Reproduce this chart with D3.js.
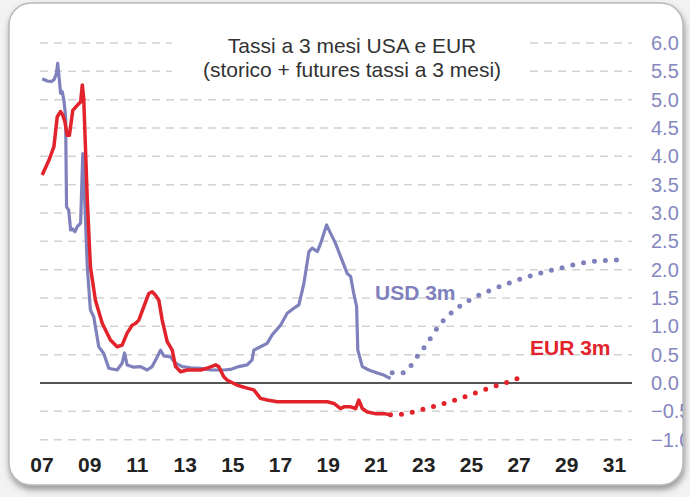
<!DOCTYPE html>
<html>
<head>
<meta charset="utf-8">
<script src="https://cdn.jsdelivr.net/npm/d3@7"></script>
<style>
body { margin: 0; background: #fff; }
svg { display: block; }
</style>
</head>
<body>
<div id="chart"></div>
<script>
// tick values and labels
const yearTicks = [2007, 2009, 2011, 2013, 2015, 2017, 2019, 2021, 2023, 2025, 2027, 2029, 2031];
const yearLabels = ['07', '09', '11', '13', '15', '17', '19', '21', '23', '25', '27', '29', '31'];
const rateTicks = [-1, -0.5, 0, 0.5, 1, 1.5, 2, 2.5, 3, 3.5, 4, 4.5, 5, 5.5, 6];

// USD 3m, history [year, %]
const usdHist = [
  [2007.03, 5.37], [2007.24, 5.33], [2007.40, 5.32], [2007.52, 5.35], [2007.62, 5.45], [2007.68, 5.64],
  [2007.77, 5.25], [2007.80, 5.11], [2007.87, 5.14], [2007.94, 4.99], [2008.01, 4.70], [2008.05, 3.11],
  [2008.14, 3.05], [2008.22, 2.70], [2008.30, 2.72], [2008.40, 2.67], [2008.50, 2.76], [2008.64, 2.82],
  [2008.73, 4.05], [2008.84, 2.93], [2008.92, 2.05], [2009.05, 1.29], [2009.19, 1.17], [2009.40, 0.64],
  [2009.61, 0.52], [2009.82, 0.26], [2010.17, 0.23], [2010.38, 0.35], [2010.48, 0.53], [2010.59, 0.32],
  [2010.87, 0.28], [2011.15, 0.29], [2011.43, 0.23], [2011.64, 0.29], [2011.85, 0.46], [2011.99, 0.58],
  [2012.13, 0.48], [2012.41, 0.46], [2012.62, 0.35], [2012.90, 0.29], [2013.25, 0.27], [2013.67, 0.26],
  [2014.09, 0.23], [2014.64, 0.23], [2014.92, 0.24], [2015.27, 0.29], [2015.62, 0.32], [2015.83, 0.41],
  [2015.90, 0.58], [2016.18, 0.64], [2016.46, 0.70], [2016.67, 0.85], [2017.02, 1.02], [2017.30, 1.23],
  [2017.58, 1.32], [2017.79, 1.38], [2018.00, 1.76], [2018.21, 2.32], [2018.35, 2.38], [2018.56, 2.32],
  [2018.70, 2.46], [2018.95, 2.79], [2019.12, 2.64], [2019.33, 2.46], [2019.54, 2.23], [2019.82, 1.93],
  [2019.96, 1.88], [2020.09, 1.58], [2020.21, 1.35], [2020.26, 0.58], [2020.45, 0.29], [2020.72, 0.23],
  [2020.93, 0.20], [2021.14, 0.17], [2021.35, 0.14], [2021.63, 0.08]
];
// USD 3m, futures
const usdFut = [
  [2021.70, 0.18], [2022.15, 0.18], [2022.51, 0.32], [2022.79, 0.49], [2023.10, 0.66], [2023.66, 1.01],
  [2024.39, 1.31], [2025.20, 1.52], [2026.07, 1.68], [2026.83, 1.80], [2027.75, 1.92], [2028.69, 2.02],
  [2029.85, 2.13], [2030.50, 2.16], [2031.28, 2.17]
];
// EUR 3m, history
const eurHist = [
  [2007.03, 3.67], [2007.31, 3.93], [2007.52, 4.17], [2007.66, 4.70], [2007.80, 4.79], [2007.89, 4.73],
  [2007.98, 4.61], [2008.08, 4.37], [2008.17, 4.37], [2008.31, 4.81], [2008.50, 4.90], [2008.64, 4.96],
  [2008.71, 5.26], [2008.77, 5.02], [2008.92, 3.23], [2009.05, 2.05], [2009.26, 1.46], [2009.55, 1.05],
  [2009.89, 0.76], [2010.17, 0.64], [2010.38, 0.67], [2010.59, 0.88], [2010.80, 1.02], [2010.94, 1.05],
  [2011.08, 1.11], [2011.29, 1.35], [2011.50, 1.58], [2011.64, 1.61], [2011.78, 1.55], [2011.92, 1.46],
  [2012.06, 1.11], [2012.27, 0.73], [2012.48, 0.58], [2012.62, 0.29], [2012.83, 0.20], [2013.11, 0.23],
  [2013.67, 0.23], [2014.01, 0.27], [2014.30, 0.32], [2014.43, 0.29], [2014.64, 0.11], [2014.79, 0.05],
  [2015.21, -0.04], [2015.62, -0.09], [2015.90, -0.12], [2016.18, -0.27], [2016.46, -0.30], [2016.88, -0.33],
  [2018.98, -0.33], [2019.26, -0.36], [2019.54, -0.45], [2019.68, -0.42], [2019.96, -0.42], [2020.17, -0.45],
  [2020.30, -0.30], [2020.45, -0.45], [2020.66, -0.51], [2021.00, -0.54], [2021.35, -0.54], [2021.63, -0.56]
];
// EUR 3m, futures
const eurFut = [
  [2021.63, -0.56], [2022.15, -0.55], [2022.61, -0.51], [2023.10, -0.45], [2023.56, -0.40], [2024.04, -0.34],
  [2024.50, -0.28], [2024.96, -0.21], [2025.44, -0.14], [2025.90, -0.07], [2026.36, -0.01], [2026.83, 0.06],
  [2027.29, 0.14]
];

var width = 690,
    height = 497;

var usdColor = '#7f81bd',
    eurColor = '#e2232b',
    narrow = '"Liberation Sans Narrow", "Arial Narrow", "Liberation Sans", sans-serif';

var svg = d3.select('#chart')
            .append('svg')
            .attr('width', width)
            .attr('height', height);

var defs = svg.append('defs');
var shadow = defs.append('filter')
                 .attr('id', 'shadow')
                 .attr('x', '-5%').attr('y', '-5%')
                 .attr('width', '110%').attr('height', '115%');
shadow.append('feDropShadow')
      .attr('dx', 1).attr('dy', 4)
      .attr('stdDeviation', 3)
      .attr('flood-color', '#555')
      .attr('flood-opacity', 0.6);

defs.append('clipPath')
    .attr('id', 'panelClip')
    .append('rect')
    .attr('x', 9).attr('y', 3)
    .attr('width', 674).attr('height', 482);

// frame
svg.append('rect')
   .attr('width', width).attr('height', height)
   .attr('fill', '#f3f3f3');
svg.append('rect')
   .attr('x', 9).attr('y', 3)
   .attr('width', 674).attr('height', 482)
   .attr('rx', 22)
   .attr('fill', '#fff')
   .attr('stroke', '#b9b9b9')
   .attr('stroke-width', 1.5)
   .attr('filter', 'url(#shadow)');

var plot = svg.append('g').attr('clip-path', 'url(#panelClip)');

var x = d3.scaleLinear().domain([2007, 2031]).range([41.5, 614]);
var y = d3.scaleLinear().domain([-1, 6]).range([439.7, 43]);

// grid
plot.append('g')
    .selectAll('line')
    .data(rateTicks.filter(function(d) { return d !== 0; }))
    .enter()
    .append('line')
    .attr('x1', 40).attr('x2', 632)
    .attr('y1', function(d) { return y(d); })
    .attr('y2', function(d) { return y(d); })
    .attr('stroke', '#d2d2d2')
    .attr('stroke-width', 1.5)
    .attr('stroke-dasharray', '8,6');

// title box hides the grid
plot.append('rect')
    .attr('x', 172).attr('y', 28)
    .attr('width', 356).attr('height', 56)
    .attr('fill', '#fff');

plot.append('text')
    .attr('x', 352).attr('y', 53)
    .attr('text-anchor', 'middle')
    .style('font-family', narrow)
    .style('font-size', '21px')
    .style('fill', '#333')
    .text('Tassi a 3 mesi USA e EUR');
plot.append('text')
    .attr('x', 352).attr('y', 77)
    .attr('text-anchor', 'middle')
    .style('font-family', narrow)
    .style('font-size', '21px')
    .style('fill', '#333')
    .text('(storico + futures tassi a 3 mesi)');

// zero line
plot.append('line')
    .attr('x1', 40).attr('x2', 632)
    .attr('y1', y(0)).attr('y2', y(0))
    .attr('stroke', '#555')
    .attr('stroke-width', 2);

var line = d3.line()
             .x(function(d) { return x(d[0]); })
             .y(function(d) { return y(d[1]); });
var smooth = d3.line()
               .curve(d3.curveMonotoneX)
               .x(function(d) { return x(d[0]); })
               .y(function(d) { return y(d[1]); });

plot.append('path')
    .datum(usdHist)
    .attr('d', line)
    .attr('fill', 'none')
    .attr('stroke', usdColor)
    .attr('stroke-width', 3.2)
    .attr('stroke-linejoin', 'round');

plot.append('path')
    .datum(eurHist)
    .attr('d', line)
    .attr('fill', 'none')
    .attr('stroke', eurColor)
    .attr('stroke-width', 3.5)
    .attr('stroke-linejoin', 'round');

plot.append('path')
    .datum(usdFut)
    .attr('d', smooth)
    .attr('fill', 'none')
    .attr('stroke', usdColor)
    .attr('stroke-width', 5)
    .attr('stroke-linecap', 'round')
    .attr('stroke-dasharray', '0,11');

plot.append('path')
    .datum(eurFut)
    .attr('d', smooth)
    .attr('fill', 'none')
    .attr('stroke', eurColor)
    .attr('stroke-width', 5)
    .attr('stroke-linecap', 'round')
    .attr('stroke-dasharray', '0,11');

// series labels
plot.append('text')
    .attr('x', 375).attr('y', 300)
    .style('font-family', narrow)
    .style('font-size', '21px')
    .style('font-weight', 'bold')
    .style('fill', usdColor)
    .text('USD 3m');
plot.append('text')
    .attr('x', 530).attr('y', 355)
    .style('font-family', narrow)
    .style('font-size', '21px')
    .style('font-weight', 'bold')
    .style('fill', eurColor)
    .text('EUR 3m');

// y axis on the right
var yAxis = d3.axisRight(y)
              .tickValues(rateTicks)
              .tickSize(0)
              .tickPadding(0)
              .tickFormat(d3.format('.1f'));
var gy = plot.append('g')
             .attr('transform', 'translate(651, 0)')
             .call(yAxis);
gy.select('.domain').remove();
gy.selectAll('text')
  .style('font-family', narrow)
  .style('font-size', '20px')
  .style('fill', '#8587c0');

// x axis
var xAxis = d3.axisBottom(x)
              .tickValues(yearTicks)
              .tickSize(0)
              .tickPadding(0)
              .tickFormat(function(d, i) { return yearLabels[i]; });
var gx = plot.append('g')
             .attr('transform', 'translate(0, 457)')
             .call(xAxis);
gx.select('.domain').remove();
gx.selectAll('text')
  .style('font-family', narrow)
  .style('font-size', '21px')
  .style('font-weight', 'bold')
  .style('fill', '#222');
</script>
</body>
</html>
